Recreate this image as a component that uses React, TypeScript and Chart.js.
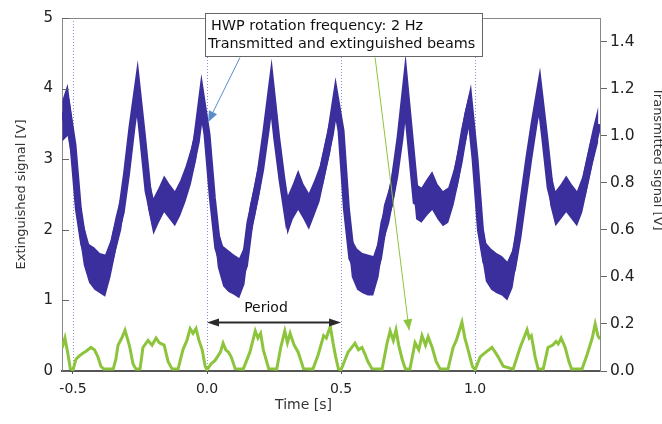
import React, { useEffect, useRef } from 'react';
import { Chart, registerables } from 'chart.js';

Chart.register(...registerables);

// ---------- data ----------
// extinguished beam (left axis), sampled every 0.02 s from -0.54 s
const blueStart = -0.54;
const blueStep = 0.02;
const blueCenter = [
  3.55, 3.7, 3.2, 2.3, 1.8, 1.55, 1.45, 1.4, 1.35, 1.6,
  1.95, 2.25, 2.8, 3.45, 4.0, 3.3, 2.55, 2.2, 2.35, 2.5,
  2.4, 2.3, 2.45, 2.65, 2.9, 3.25, 3.85, 3.35, 2.45, 1.75,
  1.5, 1.42, 1.38, 1.3, 1.5, 2.1, 2.45, 2.85, 3.4, 4.0,
  3.3, 2.7, 2.2, 2.4, 2.55, 2.4, 2.25, 2.45, 2.65, 3.0,
  3.35, 3.85, 3.4, 2.3, 1.6, 1.45, 1.4, 1.35, 1.35, 1.6,
  2.1, 2.35, 2.75, 3.3, 4.0, 3.2, 2.4, 2.35, 2.45, 2.55,
  2.4, 2.3, 2.35, 2.6, 2.95, 3.4, 3.75, 3.0, 2.0, 1.55,
  1.45, 1.4, 1.35, 1.25, 1.45, 1.9, 2.45, 3.0, 3.5, 3.95,
  3.3, 2.6, 2.3, 2.4, 2.5, 2.4, 2.3, 2.5, 2.85, 3.2,
  3.5,
];
const blueUpper = [
  3.83, 4.07, 3.47, 2.55, 2.07, 1.8, 1.75, 1.67, 1.65, 1.85,
  2.2, 2.5, 3.05, 3.7, 4.2, 3.55, 2.8, 2.45, 2.6, 2.77,
  2.65, 2.55, 2.7, 2.9, 3.15, 3.5, 4.06, 3.6, 2.7, 2.02,
  1.77, 1.71, 1.65, 1.6, 1.77, 2.35, 2.7, 3.1, 3.67, 4.22,
  3.55, 2.95, 2.47, 2.65, 2.85, 2.65, 2.52, 2.7, 2.9, 3.25,
  3.6, 3.98, 3.65, 2.55, 1.87, 1.73, 1.67, 1.65, 1.63, 1.85,
  2.35, 2.6, 3.0, 3.55, 4.19, 3.45, 2.65, 2.6, 2.72, 2.83,
  2.65, 2.55, 2.6, 2.85, 3.2, 3.65, 3.96, 3.25, 2.25, 1.82,
  1.73, 1.67, 1.63, 1.55, 1.72, 2.15, 2.7, 3.25, 3.75, 4.16,
  3.55, 2.85, 2.55, 2.65, 2.77, 2.65, 2.55, 2.75, 3.1, 3.45,
  3.75,
];
const blueLower = [
  3.25, 3.33, 2.9, 2.03, 1.5, 1.25, 1.15, 1.1, 1.05, 1.33,
  1.7, 2.0, 2.55, 3.2, 3.7, 3.05, 2.3, 1.93, 2.1, 2.25,
  2.15, 2.05, 2.2, 2.4, 2.65, 3.0, 3.55, 3.1, 2.2, 1.47,
  1.2, 1.12, 1.08, 1.03, 1.23, 1.85, 2.2, 2.6, 3.15, 3.7,
  3.05, 2.45, 1.93, 2.15, 2.28, 2.15, 2.0, 2.2, 2.4, 2.75,
  3.1, 3.6, 3.15, 2.05, 1.33, 1.15, 1.1, 1.07, 1.07, 1.33,
  1.85, 2.1, 2.5, 3.05, 3.7, 2.95, 2.15, 2.1, 2.2, 2.28,
  2.15, 2.05, 2.1, 2.35, 2.7, 3.15, 3.5, 2.75, 1.75, 1.27,
  1.15, 1.1, 1.07, 1.0, 1.18, 1.65, 2.2, 2.75, 3.25, 3.68,
  3.05, 2.35, 2.05, 2.15, 2.25, 2.15, 2.05, 2.25, 2.6, 2.95,
  3.25,
];
const blueTime = blueCenter.map((_, i) => Math.round((blueStart + i * blueStep) * 1000) / 1000);

// transmitted beam (right axis)
const greenTime = [
  -0.54, -0.53, -0.52, -0.51, -0.5,
  -0.489, -0.475, -0.463, -0.45, -0.433, -0.42, -0.407, -0.396, -0.385, -0.35,
  -0.34, -0.332, -0.318, -0.306, -0.295, -0.288, -0.276, -0.265, -0.25,
  -0.239, -0.22, -0.205, -0.19, -0.178, -0.16, -0.145, -0.13, -0.108,
  -0.09, -0.075, -0.063, -0.052, -0.041, -0.03, -0.018, -0.007, 0.0,
  0.015, 0.03, 0.05, 0.06, 0.07, 0.08, 0.09, 0.105, 0.135,
  0.16, 0.18, 0.19, 0.2, 0.21, 0.23, 0.26,
  0.275, 0.29, 0.3, 0.31, 0.325, 0.34, 0.36, 0.395,
  0.415, 0.435, 0.445, 0.46, 0.47, 0.48, 0.49, 0.5,
  0.526, 0.552, 0.565, 0.578, 0.59, 0.6, 0.615, 0.653,
  0.672, 0.683, 0.695, 0.705, 0.715, 0.728, 0.74, 0.757,
  0.776, 0.79, 0.802, 0.815, 0.825, 0.84, 0.855, 0.87, 0.899,
  0.918, 0.93, 0.951, 0.962, 0.974, 0.99, 1.0,
  1.019, 1.04, 1.063, 1.075, 1.086, 1.105, 1.142,
  1.168, 1.194, 1.202, 1.21, 1.224, 1.235, 1.254,
  1.272, 1.29, 1.302, 1.31, 1.321, 1.336, 1.35, 1.36, 1.399,
  1.418, 1.437, 1.448, 1.458, 1.466,
];
const greenValue = [
  0.1, 0.14, 0.08, 0.01, 0.005,
  0.05, 0.065, 0.076, 0.085, 0.1, 0.09, 0.06, 0.02, 0.008, 0.008,
  0.05, 0.11, 0.14, 0.173, 0.13, 0.1, 0.03, 0.008, 0.008,
  0.1, 0.13, 0.11, 0.14, 0.12, 0.11, 0.04, 0.008, 0.008,
  0.09, 0.13, 0.18, 0.16, 0.18, 0.13, 0.09, 0.02, 0.005,
  0.03, 0.045, 0.08, 0.118, 0.09, 0.08, 0.06, 0.01, 0.008,
  0.08, 0.17, 0.14, 0.16, 0.09, 0.01, 0.008,
  0.1, 0.17, 0.12, 0.16, 0.11, 0.08, 0.01, 0.008,
  0.07, 0.15, 0.14, 0.19, 0.12, 0.06, 0.01, 0.005,
  0.08, 0.118, 0.09, 0.1, 0.07, 0.04, 0.01, 0.008,
  0.12, 0.17, 0.13, 0.175, 0.11, 0.05, 0.008, 0.008,
  0.12, 0.09, 0.15, 0.11, 0.145, 0.1, 0.04, 0.008, 0.008,
  0.1, 0.13, 0.207, 0.14, 0.09, 0.02, 0.005,
  0.06, 0.08, 0.1, 0.08, 0.06, 0.02, 0.008,
  0.1, 0.175, 0.14, 0.15, 0.06, 0.01, 0.008,
  0.1, 0.11, 0.125, 0.115, 0.14, 0.1, 0.04, 0.008, 0.008,
  0.07, 0.14, 0.2, 0.15, 0.135,
];

const xTicks = [-0.5, 0, 0.5, 1.0];
const leftTicks = [0, 1, 2, 3, 4, 5];
const rightTicks = [0, 0.2, 0.4, 0.6, 0.8, 1.0, 1.2, 1.4];

const xTitle = 'Time [s]';
const leftTitle = 'Extinguished signal [V]';
const rightTitle = 'Transmitted signal [V]';
const noteLines = ['HWP rotation frequency: 2 Hz', 'Transmitted and extinguished beams'];
const periodLabel = 'Period';

// annotation anchors in data units (x: time, y: left axis)
const noteBox = { x0: -0.0075, x1: 1.026, yTop: 5.07, yBottom: 4.466 };
const noteText = [{ x: 0.015, y: 4.83 }, { x: 0.004, y: 4.58 }];
const blueArrow = { x0: 0.123, y0: 4.44, x1: 0.004, y1: 3.525 };
const greenArrow = { x0: 0.627, y0: 4.44, x1: 0.754, y1: 0.576 };
const periodArrow = { x0: 0, x1: 0.5, y: 0.7 };
const periodText = { x: 0.22, y: 0.885 };
const xTitleCenter = 0.36;

const BLUE = '#3a2f9c';
const GREEN = '#8cc43c';
const FONT = "'DejaVu Sans', 'Liberation Sans', sans-serif";

function arrowHead(ctx: CanvasRenderingContext2D, fx: number, fy: number, tx: number, ty: number, len: number, half: number) {
  const a = Math.atan2(ty - fy, tx - fx);
  ctx.beginPath();
  ctx.moveTo(tx, ty);
  ctx.lineTo(tx - len * Math.cos(a) + half * Math.sin(a), ty - len * Math.sin(a) - half * Math.cos(a));
  ctx.lineTo(tx - len * Math.cos(a) - half * Math.sin(a), ty - len * Math.sin(a) + half * Math.cos(a));
  ctx.closePath();
  ctx.fill();
}

const annotate = {
  id: 'annotate',
  beforeDatasetsDraw(chart: any) {
    const { ctx, chartArea, scales } = chart;
    const x = scales.x;
    ctx.save();
    ctx.strokeStyle = '#8c8cdc';
    ctx.lineWidth = 1;
    ctx.setLineDash([1, 2]);
    xTicks.forEach((v) => {
      const px = Math.round(x.getPixelForValue(v)) + 0.5;
      ctx.beginPath();
      ctx.moveTo(px, chartArea.top);
      ctx.lineTo(px, chartArea.bottom);
      ctx.stroke();
    });
    ctx.restore();
  },
  afterDatasetsDraw(chart: any) {
    const { ctx, chartArea, scales } = chart;
    const x = scales.x;
    const y = scales.y;
    const X = (v: number) => x.getPixelForValue(v);
    const Y = (v: number) => y.getPixelForValue(v);
    ctx.save();
    // frame top
    ctx.strokeStyle = '#888';
    ctx.lineWidth = 1;
    ctx.beginPath();
    ctx.moveTo(chartArea.left, Math.round(chartArea.top) + 0.5);
    ctx.lineTo(chartArea.right, Math.round(chartArea.top) + 0.5);
    ctx.stroke();
    // inward ticks on left axis
    ctx.strokeStyle = '#666';
    leftTicks.forEach((v) => {
      const py = Math.round(Y(v)) + 0.5;
      ctx.beginPath();
      ctx.moveTo(chartArea.left, py);
      ctx.lineTo(chartArea.left + 7, py);
      ctx.stroke();
    });

    // blue arrow
    ctx.strokeStyle = '#5a8ccc';
    ctx.fillStyle = '#5a8ccc';
    ctx.lineWidth = 1;
    ctx.beginPath();
    ctx.moveTo(X(blueArrow.x0), Y(blueArrow.y0));
    ctx.lineTo(X(blueArrow.x1), Y(blueArrow.y1));
    ctx.stroke();
    arrowHead(ctx, X(blueArrow.x0), Y(blueArrow.y0), X(blueArrow.x1), Y(blueArrow.y1), 11, 4.5);

    // green arrow
    ctx.strokeStyle = GREEN;
    ctx.fillStyle = GREEN;
    ctx.beginPath();
    ctx.moveTo(X(greenArrow.x0), Y(greenArrow.y0));
    ctx.lineTo(X(greenArrow.x1), Y(greenArrow.y1));
    ctx.stroke();
    arrowHead(ctx, X(greenArrow.x0), Y(greenArrow.y0), X(greenArrow.x1), Y(greenArrow.y1), 11, 4.5);

    // period arrow
    const py = Math.round(Y(periodArrow.y)) + 0.5;
    const pxa = X(periodArrow.x0);
    const pxb = X(periodArrow.x1);
    ctx.strokeStyle = '#2a2a2a';
    ctx.fillStyle = '#2a2a2a';
    ctx.lineWidth = 2;
    ctx.beginPath();
    ctx.moveTo(pxa + 6, py);
    ctx.lineTo(pxb - 6, py);
    ctx.stroke();
    arrowHead(ctx, pxb, py, pxa, py, 12, 4);
    arrowHead(ctx, pxa, py, pxb, py, 12, 4);
    ctx.font = `14px ${FONT}`;
    ctx.textAlign = 'center';
    ctx.textBaseline = 'middle';
    ctx.fillStyle = '#111';
    ctx.fillText(periodLabel, X(periodText.x), Y(periodText.y));

    // note box
    const bx0 = Math.round(X(noteBox.x0)) + 0.5;
    const bx1 = Math.round(X(noteBox.x1)) + 0.5;
    const by0 = Math.round(Y(noteBox.yTop)) + 0.5;
    const by1 = Math.round(Y(noteBox.yBottom)) + 0.5;
    ctx.fillStyle = '#fff';
    ctx.fillRect(bx0, by0, bx1 - bx0, by1 - by0);
    ctx.strokeStyle = '#666';
    ctx.lineWidth = 1;
    ctx.strokeRect(bx0, by0, bx1 - bx0, by1 - by0);
    ctx.fillStyle = '#111';
    ctx.font = `14.4px ${FONT}`;
    ctx.textAlign = 'left';
    ctx.textBaseline = 'alphabetic';
    noteLines.forEach((line, i) => {
      ctx.fillText(line, X(noteText[i].x), Y(noteText[i].y));
    });

    // x axis title
    ctx.font = `14px ${FONT}`;
    ctx.fillStyle = '#333';
    ctx.textAlign = 'center';
    ctx.textBaseline = 'middle';
    ctx.fillText(xTitle, X(xTitleCenter), chart.height - 19);

    // right axis title (rotated clockwise)
    ctx.save();
    ctx.translate(chart.width - 5, Y(3.0));
    ctx.rotate(Math.PI / 2);
    ctx.font = `13px ${FONT}`;
    ctx.fillStyle = '#333';
    ctx.textAlign = 'center';
    ctx.textBaseline = 'middle';
    ctx.fillText(rightTitle, 0, 0);
    ctx.restore();

    ctx.restore();
  },
};

export default function App() {
  const ref = useRef<HTMLCanvasElement | null>(null);
  useEffect(() => {
    if (!ref.current) return;
    const tickFont = { family: FONT, size: 14 };
    const chart = new Chart(ref.current, {
      type: 'line',
      data: {
        datasets: [
          {
            label: 'lower',
            data: blueTime.map((t, i) => ({ x: t, y: blueLower[i] })),
            yAxisID: 'y',
            borderWidth: 0,
            borderColor: BLUE,
            pointRadius: 0,
            fill: false,
          },
          {
            label: 'upper',
            data: blueTime.map((t, i) => ({ x: t, y: blueUpper[i] })),
            yAxisID: 'y',
            borderWidth: 0,
            borderColor: BLUE,
            backgroundColor: BLUE,
            pointRadius: 0,
            fill: '-1',
          },
          {
            label: 'Extinguished',
            data: blueTime.map((t, i) => ({ x: t, y: blueCenter[i] })),
            yAxisID: 'y',
            borderWidth: 7,
            borderColor: BLUE,
            pointRadius: 0,
            fill: false,
          },
          {
            label: 'Transmitted',
            data: greenTime.map((t, i) => ({ x: t, y: greenValue[i] })),
            yAxisID: 'y1',
            borderWidth: 3,
            borderColor: GREEN,
            pointRadius: 0,
            fill: false,
          },
        ],
      },
      options: {
        animation: false,
        responsive: false,
        devicePixelRatio: 1,
        layout: { padding: { top: 15, left: 0, right: 0, bottom: 0 } },
        plugins: { legend: { display: false }, tooltip: { enabled: false } },
        elements: { line: { tension: 0 } },
        scales: {
          x: {
            type: 'linear',
            min: -0.541,
            max: 1.466,
            afterBuildTicks: (s: any) => { s.ticks = xTicks.map((v) => ({ value: v })); },
            afterFit: (s: any) => { s.height = 53; },
            ticks: { font: tickFont, color: '#222', padding: 7, maxRotation: 0, callback: (v: any) => Number(v).toFixed(1) },
            grid: { display: true, drawOnChartArea: false, drawTicks: true, tickLength: 3, tickColor: '#555' },
            border: { display: true, color: '#555', width: 2 },
            title: { display: false },
          },
          y: {
            type: 'linear',
            position: 'left',
            min: 0,
            max: 5,
            afterBuildTicks: (s: any) => { s.ticks = leftTicks.map((v) => ({ value: v })); },
            afterFit: (s: any) => { s.width = 62; },
            ticks: { font: { family: FONT, size: 15 }, color: '#222', padding: 9, callback: (v: any) => String(v) },
            grid: { display: true, drawOnChartArea: false, drawTicks: false },
            border: { display: true, color: '#888', width: 1 },
            title: { display: true, text: leftTitle, font: { family: FONT, size: 13 }, color: '#333', padding: { top: 14, bottom: 0 } },
          },
          y1: {
            type: 'linear',
            position: 'right',
            min: 0,
            max: 1.5,
            afterBuildTicks: (s: any) => { s.ticks = rightTicks.map((v) => ({ value: v })); },
            afterFit: (s: any) => { s.width = 62; },
            ticks: { font: { family: FONT, size: 15.5 }, color: '#222', padding: 3, callback: (v: any) => Number(v).toFixed(1) },
            grid: { display: true, drawOnChartArea: false, drawTicks: true, tickLength: 7, tickColor: '#666' },
            border: { display: true, color: '#888', width: 1 },
          },
        },
      },
      plugins: [annotate],
    } as any);
    return () => chart.destroy();
  }, []);
  return (
    <div style={{ position: 'absolute', left: 0, top: 0, width: 662, height: 424, background: '#fff' }}>
      <canvas ref={ref} width={662} height={424} style={{ display: 'block', width: 662, height: 424 }} />
    </div>
  );
}
